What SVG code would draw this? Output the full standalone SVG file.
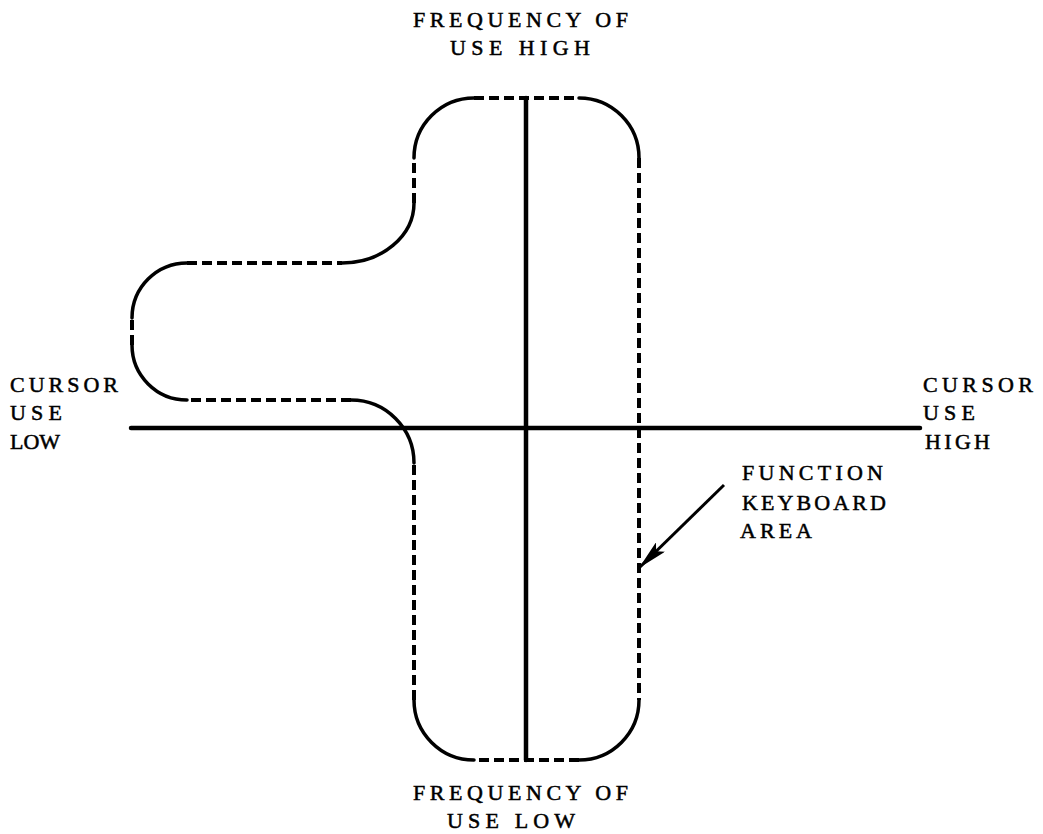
<svg xmlns="http://www.w3.org/2000/svg" width="1043" height="834" viewBox="0 0 1043 834">
<style>
.bg{fill:#fff}
.axis{stroke:#000;stroke-width:4.5;fill:none;stroke-linecap:round}
.arc{stroke:#000;stroke-width:3.5;fill:none;stroke-linecap:round}
.dash{stroke:#000;stroke-width:4;fill:none;stroke-dasharray:10 5}
.lbl{font-family:"Liberation Serif","DejaVu Serif",serif;font-size:22px;fill:#000;stroke:#000;stroke-width:0.5}
.lead{stroke:#000;stroke-width:3;fill:none}
</style>
<defs>
<marker id="ah" markerUnits="userSpaceOnUse" markerWidth="30" markerHeight="13" refX="30" refY="6.5" orient="auto">
<path d="M0,0 L30,6.5 L0,13 L6,6.5 z" fill="#000"/>
</marker>
</defs>
<rect class="bg" x="0" y="0" width="1043" height="834"/>
<g id="axes">
<line class="axis" x1="526" y1="98" x2="526" y2="760"/>
<line class="axis" x1="131" y1="428" x2="920" y2="428"/>
</g>
<g id="function-keyboard-area">
<path class="arc" d="M414,158 A60,60 0 0 1 474,98"/>
<path class="dash" d="M474,98 H579"/>
<path class="arc" d="M579,98 A60,60 0 0 1 639,158"/>
<path class="dash" d="M639,158 V700"/>
<path class="arc" d="M639,700 A60,60 0 0 1 579,760"/>
<path class="dash" d="M579,760 H474"/>
<path class="arc" d="M474,760 A60,60 0 0 1 414,700"/>
<path class="dash" d="M414,700 V463"/>
<path class="arc" d="M414,463 A63,63 0 0 0 351,400"/>
<path class="dash" d="M351,400 H187"/>
<path class="arc" d="M187,400 A55,55 0 0 1 132,345"/>
<path class="dash" d="M132,345 V318"/>
<path class="arc" d="M132,318 A55,55 0 0 1 187,263"/>
<path class="dash" d="M187,263 H342"/>
<path class="arc" d="M342,263 A72,60 0 0 0 414,203"/>
<path class="dash" d="M414,203 V158"/>
</g>
<g id="connectors">
<line class="lead" x1="724" y1="485" x2="639" y2="568" marker-end="url(#ah)"/>
</g>
<g id="label-top">
<text class="lbl" x="413" y="27" textLength="215" lengthAdjust="spacing">FREQUENCY OF</text>
<text class="lbl" x="450" y="55" textLength="140" lengthAdjust="spacing">USE HIGH</text>
</g>
<g id="label-bottom">
<text class="lbl" x="413" y="800" textLength="215" lengthAdjust="spacing">FREQUENCY OF</text>
<text class="lbl" x="447" y="828" textLength="128" lengthAdjust="spacing">USE LOW</text>
</g>
<g id="label-left">
<text class="lbl" x="10" y="392" textLength="108" lengthAdjust="spacing">CURSOR</text>
<text class="lbl" x="10" y="420" textLength="52" lengthAdjust="spacing">USE</text>
<text class="lbl" x="10" y="449" textLength="50" lengthAdjust="spacing">LOW</text>
</g>
<g id="label-right">
<text class="lbl" x="923" y="392" textLength="110" lengthAdjust="spacing">CURSOR</text>
<text class="lbl" x="923" y="420" textLength="52" lengthAdjust="spacing">USE</text>
<text class="lbl" x="925" y="449" textLength="65" lengthAdjust="spacing">HIGH</text>
</g>
<g id="label-function">
<text class="lbl" x="742" y="480" textLength="141" lengthAdjust="spacing">FUNCTION</text>
<text class="lbl" x="742" y="510" textLength="144" lengthAdjust="spacing">KEYBOARD</text>
<text class="lbl" x="740" y="538" textLength="72" lengthAdjust="spacing">AREA</text>
</g>
</svg>
